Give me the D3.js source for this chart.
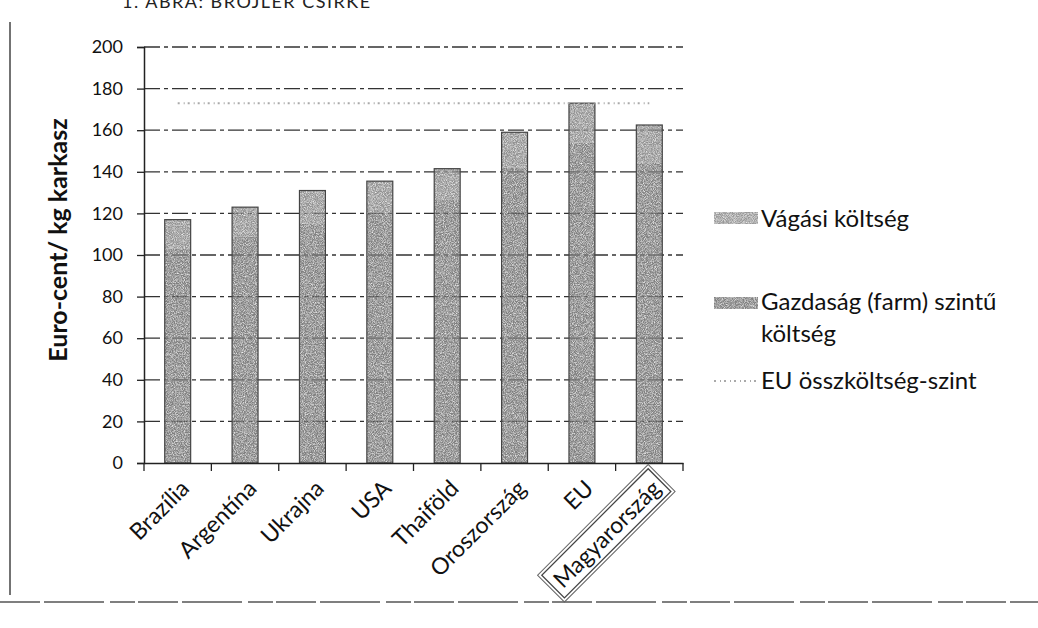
<!DOCTYPE html>
<html><head><meta charset="utf-8">
<script src="https://cdn.jsdelivr.net/npm/d3@7"></script>
<style>
body{margin:0;background:#fff;}
svg{display:block;font-family:Lato,"Open Sans",sans-serif;}
</style></head>
<body><svg id="c" width="1038" height="628"></svg>
<script>
const categories = ["Brazília","Argentína","Ukrajna","USA","Thaiföld","Oroszország","EU","Magyarország"];
const farmCost = [103,109,115,120.5,126.5,142,154,144.5];
const slaughterCost = [14,14,16,15,15,17,19,18];
const euLevel = [173,173,173,173,173,173,173,173];
const yTicks = [0,20,40,60,80,100,120,140,160,180,200];
const seriesNames = ["Vágási költség","Gazdaság (farm) szintű költség","EU összköltség-szint"];
const yTitle = "Euro-cent/ kg karkasz";
const topText = "1. ÁBRA: BROJLER CSIRKE";

(function(){
const svg = d3.select("#c");
const pL = 144, pR = 683, pT = 47, pB = 463;

const x = d3.scaleBand().domain(categories).range([pL, pR]).paddingInner(0.615).paddingOuter(0.3075);
const y = d3.scaleLinear().domain([0,200]).range([pB, pT]);

const defs = svg.append("defs");
const f = defs.append("filter").attr("id","grain").attr("x",0).attr("y",0).attr("width",1).attr("height",1);
f.append("feTurbulence").attr("type","fractalNoise").attr("baseFrequency",1.1).attr("numOctaves",2).attr("seed",3).attr("result","n");
f.append("feColorMatrix").attr("in","n").attr("type","matrix")
 .attr("values","0 0 0 0 0  0 0 0 0 0  0 0 0 0 0  0 0 0 -1.6 1.55").attr("result","a");
f.append("feComposite").attr("in","SourceGraphic").attr("in2","a").attr("operator","in");

svg.append("text").attr("x",122).attr("y",8).attr("font-size",18).attr("fill","#222")
  .attr("letter-spacing",1.5).text(topText);

svg.append("line").attr("x1",10).attr("x2",10).attr("y1",22).attr("y2",595).attr("stroke","#444").attr("stroke-width",1.5);
svg.append("line").attr("x1",0).attr("x2",1038).attr("y1",602).attr("y2",602).attr("stroke","#555").attr("stroke-width",1.3).attr("stroke-dasharray","40,4,60,6,25,3");

svg.append("g").selectAll("line").data(yTicks.filter(d=>d>0)).join("line")
  .attr("x1",pL).attr("x2",pR).attr("y1",d=>y(d)).attr("y2",d=>y(d))
  .attr("stroke","#333").attr("stroke-width",1.3).attr("stroke-dasharray","16,4,4,4");

const ya = svg.append("g").attr("transform",`translate(${pL},0)`)
  .call(d3.axisLeft(y).tickValues(yTicks).tickSize(7).tickPadding(14));
ya.select(".domain").attr("stroke","#222").attr("stroke-width",1.5);
ya.selectAll(".tick line").attr("stroke","#222").attr("stroke-width",1.3);
ya.selectAll("text").attr("font-size",18).attr("fill","#111").attr("font-family","Lato");

svg.append("text").attr("transform","translate(61,240) rotate(-90)").attr("text-anchor","middle")
  .attr("dominant-baseline","middle").attr("font-size",25).attr("font-weight","bold").attr("fill","#111").text(yTitle);

const stackData = categories.map((c,i)=>({cat:c, farm:farmCost[i], slaughter:slaughterCost[i]}));
const stack = d3.stack().keys(["farm","slaughter"])(stackData);
const fills = {farm:"#808080", slaughter:"#929292"};
svg.append("g").selectAll("g").data(stack).join("g")
  .attr("fill",d=>fills[d.key]).attr("filter","url(#grain)")
  .selectAll("rect").data(d=>d).join("rect")
  .attr("x",d=>x(d.data.cat)).attr("width",x.bandwidth())
  .attr("y",d=>y(d[1])).attr("height",d=>y(d[0])-y(d[1]));
svg.append("g").selectAll("rect").data(stackData).join("rect")
  .attr("x",d=>x(d.cat)).attr("width",x.bandwidth())
  .attr("y",d=>y(d.farm+d.slaughter)).attr("height",d=>y(0)-y(d.farm+d.slaughter))
  .attr("fill","none").attr("stroke","#444").attr("stroke-width",1.2);

const line = d3.line().x((d,i)=>x(categories[i])+x.bandwidth()/2).y(d=>y(d));
svg.append("path").datum(euLevel).attr("d",line).attr("fill","none")
  .attr("stroke","#aaa").attr("stroke-width",2).attr("stroke-dasharray","2,4,1,3");

const xa = svg.append("g").attr("transform",`translate(0,${pB})`)
  .call(d3.axisBottom(x).tickSize(0).tickFormat(""));
xa.select(".domain").attr("stroke","#222").attr("stroke-width",1.5);
const step = x.step();
svg.append("g").selectAll("line").data(d3.range(categories.length+1)).join("line")
  .attr("x1",i=>pL+i*step).attr("x2",i=>pL+i*step).attr("y1",pB).attr("y2",pB+8)
  .attr("stroke","#222").attr("stroke-width",1.3);

const lab = svg.append("g").selectAll("g").data(categories).join("g")
  .attr("transform",d=>`translate(${x(d)+x.bandwidth()/2},${pB+14}) rotate(-45)`);
lab.append("text").attr("text-anchor","end").attr("dy","0.8em").attr("font-size",23).attr("fill","#111").text(d=>d);
lab.filter(d=>d==="Magyarország").each(function(){
  const g = d3.select(this); const bb = g.select("text").node().getBBox();
  g.insert("rect","text").attr("x",bb.x-5).attr("y",bb.y-2).attr("width",bb.width+10).attr("height",bb.height+4)
    .attr("fill","none").attr("stroke","#444").attr("stroke-width",1.3);
  g.insert("rect","text").attr("x",bb.x-8).attr("y",bb.y-5).attr("width",bb.width+16).attr("height",bb.height+10)
    .attr("fill","none").attr("stroke","#666").attr("stroke-width",1);
});

const lg = svg.append("g");
const lx = 714, tx = 761, fs = 24;
lg.append("rect").attr("x",lx).attr("y",212).attr("width",44).attr("height",12).attr("fill","#999").attr("filter","url(#grain)");
lg.append("text").attr("x",tx).attr("y",227).attr("font-size",fs).attr("fill","#111").text(seriesNames[0]);
lg.append("rect").attr("x",lx).attr("y",297).attr("width",44).attr("height",12).attr("fill","#808080").attr("filter","url(#grain)");
lg.append("text").attr("x",tx).attr("y",310).attr("font-size",fs).attr("fill","#111").text("Gazdaság (farm) szintű");
lg.append("text").attr("x",tx).attr("y",342).attr("font-size",fs).attr("fill","#111").text("költség");
lg.append("line").attr("x1",lx).attr("x2",lx+44).attr("y1",381).attr("y2",381).attr("stroke","#aaa").attr("stroke-width",2).attr("stroke-dasharray","2,4,1,3");
lg.append("text").attr("x",tx).attr("y",389).attr("font-size",fs).attr("fill","#111").text(seriesNames[2]);
})();
</script></body></html>
